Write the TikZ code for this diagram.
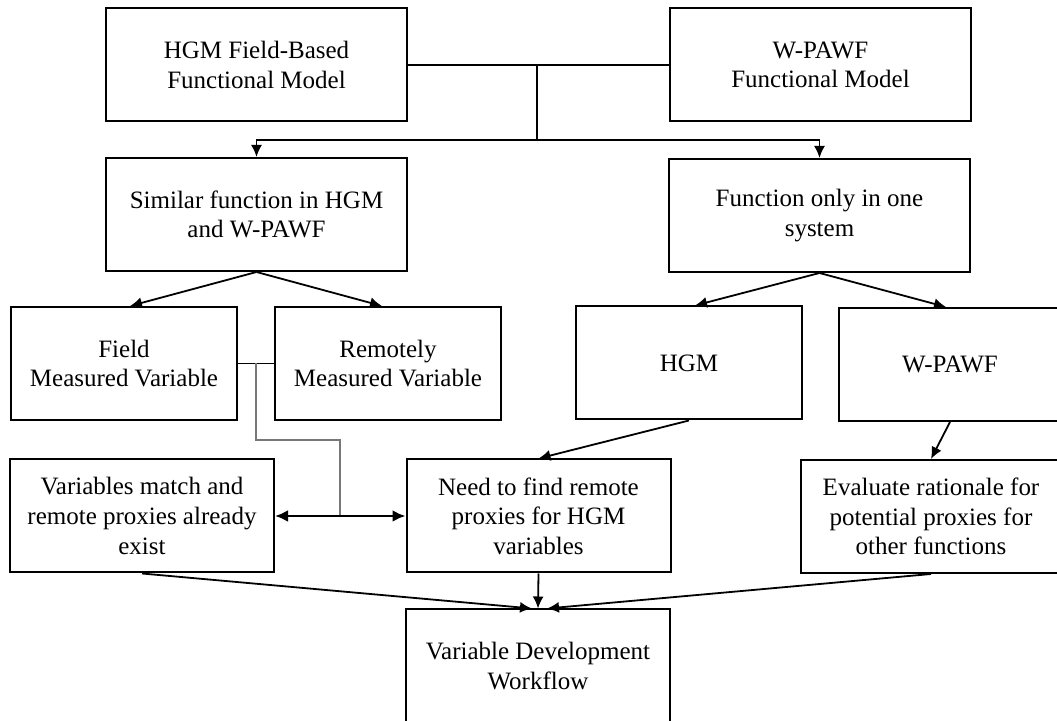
\documentclass[tikz,border=0pt]{standalone}
\usepackage{fontspec}
\setmainfont{Liberation Serif}
\usetikzlibrary{arrows.meta,calc}
\definecolor{linegray}{RGB}{120,120,120}

\begin{document}
\begin{tikzpicture}[x=0.5pt, y=-0.5pt,
	box/.style={draw, line width=1pt, align=center, minimum height=56.5pt, inner sep=2pt, font=\fontsize{12.5}{14.8}\selectfont},
	wide/.style={box, minimum width=150.5pt},
	mid/.style={box, minimum width=132pt},
	narrow/.style={box, minimum width=113pt},
	arr/.style={line width=0.9pt, -{Latex[length=6pt,width=5.5pt]}},
	biarr/.style={line width=1.4pt, {Latex[length=6.5pt,width=6pt]}-{Latex[length=6.5pt,width=6pt]}}]

		\useasboundingbox (0,0) rectangle (1057,721);
		\clip (0,0) rectangle (1057,721);

		\node[wide] (hgmfm) at (256.5,65) {HGM Field-Based\\Functional Model};
		\node[wide] (wpfm) at (820.5,65) {W-PAWF\\Functional Model};
		\node[wide] (similar) at (256.5,214.5) {Similar function in HGM\\and W-PAWF};
		\node[wide] (onesys) at (819.5,215.5) {Function only in one\\system};
		\node[narrow] (field) at (124,363.5) {Field\\Measured Variable};
		\node[narrow] (remote) at (388,363.5) {Remotely\\Measured Variable};
		\node[narrow] (hgm) at (689,363) {HGM};
		\node[narrow, minimum width=111pt] (wpawf) at (950,364.5) {W-PAWF};
		\node[mid] (match) at (142,516) {Variables match and\\remote proxies already\\exist};
		\node[mid] (need) at (538.5,516) {Need to find remote\\proxies for HGM\\variables};
		\node[mid, minimum width=130pt] (eval) at (931,516.5) {Evaluate rationale for\\potential proxies for\\other functions};
		\node[mid] (vdw) at (538,666) {Variable Development\\Workflow};

		\coordinate (split) at (537,65);
		\coordinate (fork) at (537,140);
		\draw[line width=0.9pt] (hgmfm.east) -- (wpfm.west);
		\draw[line width=0.9pt] (split) -- (fork);
		\draw[arr] (fork) -| (similar.north);
		\draw[arr] (fork) -| (onesys.north);

		\draw[arr] (similar.south) -- ([xshift=3pt]field.north);
		\draw[arr] (similar.south) -- ([xshift=-3pt]remote.north);
		\draw[arr] (onesys.south) -- ([xshift=3pt]hgm.north);
		\draw[arr] (onesys.south) -- ([xshift=-2pt]wpawf.north);

		\draw[line width=0.9pt] (field.east) -- (remote.west);
		\coordinate (tap) at ($(field.east)!0.5!(remote.west)$);
		\coordinate (bend) at (340,440);
		\draw[linegray, line width=0.6pt] (tap) |- (bend) -- (bend |- match.east);
		\draw[biarr] (match.east) -- (need.west);

		\draw[arr] (hgm.south) -- (need.north);
		\draw[arr] (wpawf.south) -- (eval.north);
		\draw[arr] (match.south) -- ([xshift=-3pt]vdw.north);
		\draw[arr] (need.south) -- (vdw.north);
		\draw[arr] (eval.south) -- ([xshift=4.5pt]vdw.north);

\end{tikzpicture}
\end{document}
